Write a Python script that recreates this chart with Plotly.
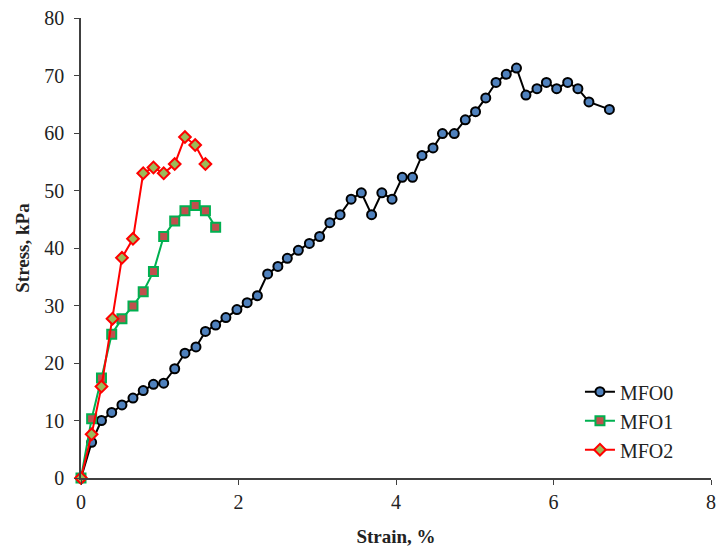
import plotly.graph_objects as go

# MFO0
mfo0_strain = [0.0, 0.135, 0.26, 0.39, 0.52, 0.66, 0.79, 0.92, 1.05, 1.19, 1.32, 1.46, 1.58, 1.71,
               1.84, 1.98, 2.11, 2.24, 2.37, 2.50, 2.62, 2.76, 2.90, 3.03, 3.16, 3.29, 3.43, 3.56,
               3.69, 3.82, 3.95, 4.08, 4.21, 4.33, 4.47, 4.59, 4.74, 4.88, 5.01, 5.14, 5.27, 5.40,
               5.53, 5.65, 5.79, 5.91, 6.04, 6.18, 6.31, 6.45, 6.71]
mfo0_stress = [0.0, 6.2, 10.0, 11.4, 12.7, 13.9, 15.2, 16.3, 16.5, 19.0, 21.7, 22.8, 25.5, 26.6,
               27.9, 29.3, 30.5, 31.7, 35.5, 36.8, 38.2, 39.6, 40.8, 42.0, 44.4, 45.8, 48.5, 49.6,
               45.8, 49.6, 48.5, 52.3, 52.3, 56.1, 57.4, 59.9, 59.9, 62.3, 63.7, 66.1, 68.8, 70.2,
               71.3, 66.6, 67.7, 68.8, 67.7, 68.8, 67.7, 65.4, 64.1]

# MFO1
mfo1_strain = [0.0, 0.135, 0.26, 0.39, 0.52, 0.66, 0.79, 0.92, 1.05, 1.19, 1.32, 1.45, 1.58, 1.71]
mfo1_stress = [0.0, 10.3, 17.4, 25.0, 27.7, 29.9, 32.4, 35.9, 42.0, 44.7, 46.5, 47.4, 46.5, 43.6]

# MFO2
mfo2_strain = [0.0, 0.135, 0.26, 0.40, 0.52, 0.66, 0.79, 0.92, 1.05, 1.19, 1.32, 1.45, 1.58]
mfo2_stress = [0.0, 7.6, 15.9, 27.7, 38.3, 41.6, 53.0, 54.0, 53.0, 54.6, 59.3, 57.9, 54.6]

x_ticks = [0, 2, 4, 6, 8]
y_ticks = [0, 10, 20, 30, 40, 50, 60, 70, 80]

serif = "Liberation Serif, Times New Roman, serif"

fig = go.Figure()
fig.add_trace(go.Scatter(
    x=mfo0_strain, y=mfo0_stress, name="MFO0", mode="lines+markers",
    line=dict(color="black", width=2),
    marker=dict(symbol="circle", size=9, color="#4F81BD", line=dict(color="black", width=2)),
    cliponaxis=False,
))
fig.add_trace(go.Scatter(
    x=mfo1_strain, y=mfo1_stress, name="MFO1", mode="lines+markers",
    line=dict(color="#00B050", width=2),
    marker=dict(symbol="square", size=9, color="#C0504D", line=dict(color="#00B050", width=2)),
    cliponaxis=False,
))
fig.add_trace(go.Scatter(
    x=mfo2_strain, y=mfo2_stress, name="MFO2", mode="lines+markers",
    line=dict(color="#FF0000", width=2),
    marker=dict(symbol="diamond", size=9, color="#9BBB59", line=dict(color="#FF0000", width=2)),
    cliponaxis=False,
))

fig.update_layout(
    width=716, height=550,
    margin=dict(l=81, r=5, t=18, b=72),
    plot_bgcolor="white", paper_bgcolor="white",
    font=dict(family=serif, size=20, color="#222222"),
    showlegend=True,
    legend=dict(x=0.792, y=0.23, xanchor="left", yanchor="top",
                bgcolor="rgba(0,0,0,0)", font=dict(family=serif, size=20, color="#222222")),
    xaxis=dict(range=[0, 8], tickvals=x_ticks, showgrid=False, zeroline=False,
               showline=True, linecolor="#404040", linewidth=1.5,
               ticks="outside", ticklen=5, tickcolor="#404040", automargin=False,
               title=dict(text="<b>Strain, %</b>", font=dict(family=serif, size=19), standoff=18)),
    yaxis=dict(range=[0, 80], tickvals=y_ticks, showgrid=False, zeroline=False,
               showline=True, linecolor="#404040", linewidth=1.5,
               ticks="outside", ticklen=5, tickcolor="#404040", automargin=False,
               ticklabelstandoff=6,
               title=dict(text="<b>Stress, kPa</b>", font=dict(family=serif, size=19), standoff=10)),
)

fig.write_html("out.html", config={"displayModeBar": False},
               post_script="document.body.style.margin='0';")
